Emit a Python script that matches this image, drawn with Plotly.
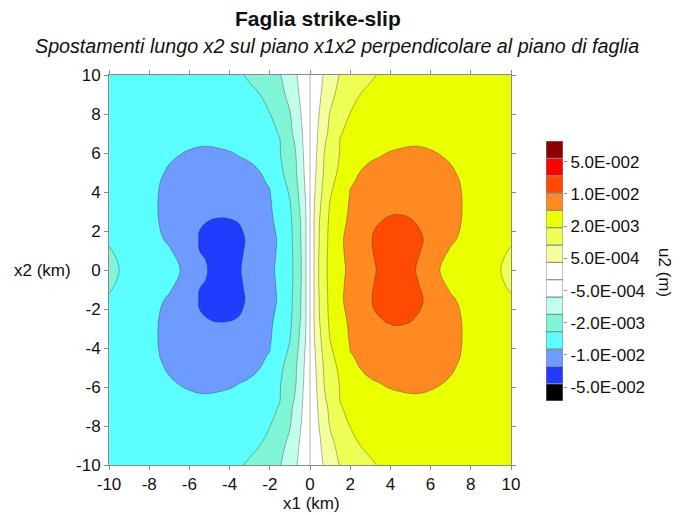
import numpy as np
import plotly.graph_objects as go

# Grid nodes on the positive side of the fault trace (x1 = 0 is the fault)
x1_pos = [0.2, 0.4, 0.7, 1.0, 1.5, 2, 2.5, 3, 3.5, 4, 4.5, 5, 5.5, 6, 6.5, 7, 7.5, 8, 9, 10]
x2_pos = [0, 0.5, 1, 1.5, 2, 2.5, 3, 3.5, 4, 4.5, 5, 5.5, 6, 6.5, 7, 8, 9, 10]

# u2 displacement in mm, one list per x2 row (x1 > 0, x2 >= 0)
u2_mm_x2_00 = [0.50, 0.95, 1.75, 2.66, 4.34, 5.95, 7.50, 9.05, 11.3, 13.2, 13.4, 11.8, 9.10, 6.80, 4.91, 4.43, 3.95, 3.44, 2.48, 1.84]
u2_mm_x2_05 = [0.50, 0.96, 1.74, 2.72, 4.46, 6.10, 7.70, 9.30, 11.9, 14.0, 14.2, 12.5, 9.50, 7.35, 5.20, 4.55, 4.07, 3.56, 2.60, 1.87]
u2_mm_x2_10 = [0.50, 0.94, 1.69, 2.69, 4.55, 6.25, 7.90, 9.50, 12.6, 14.8, 15.1, 13.5, 10.0, 8.10, 6.15, 4.79, 4.31, 3.83, 2.84, 1.95]
u2_mm_x2_15 = [0.50, 0.92, 1.67, 2.66, 4.61, 6.35, 8.00, 9.65, 13.1, 15.3, 15.7, 14.2, 10.9, 8.70, 7.10, 5.50, 4.67, 4.16, 3.17, 2.21]
u2_mm_x2_20 = [0.50, 0.92, 1.65, 2.60, 4.43, 6.15, 7.75, 9.35, 12.2, 14.4, 14.7, 13.3, 10.0, 8.70, 7.35, 6.05, 4.91, 4.40, 3.38, 2.36]
u2_mm_x2_25 = [0.50, 0.90, 1.61, 2.48, 4.22, 5.75, 7.15, 8.50, 9.85, 11.8, 12.1, 10.7, 9.25, 8.20, 7.10, 6.10, 5.05, 4.49, 3.47, 2.42]
u2_mm_x2_30 = [0.48, 0.85, 1.52, 2.33, 4.04, 5.50, 6.70, 7.80, 8.70, 9.30, 9.50, 9.20, 8.60, 7.80, 6.90, 6.00, 5.10, 4.58, 3.53, 2.48]
u2_mm_x2_35 = [0.47, 0.81, 1.41, 2.09, 3.80, 5.35, 6.30, 7.10, 7.75, 8.15, 8.35, 8.25, 7.90, 7.35, 6.65, 5.95, 5.10, 4.61, 3.59, 2.57]
u2_mm_x2_40 = [0.42, 0.76, 1.30, 1.90, 3.50, 5.10, 5.80, 6.40, 6.90, 7.25, 7.45, 7.45, 7.25, 6.85, 6.30, 5.70, 5.05, 4.61, 3.65, 2.66]
u2_mm_x2_45 = [0.39, 0.71, 1.18, 1.73, 3.11, 4.85, 5.35, 5.90, 6.35, 6.70, 6.95, 7.00, 6.85, 6.50, 6.00, 5.50, 4.97, 4.58, 3.65, 2.72]
u2_mm_x2_50 = [0.36, 0.66, 1.08, 1.56, 2.66, 4.16, 5.10, 5.60, 5.95, 6.25, 6.45, 6.50, 6.40, 6.10, 5.65, 5.25, 4.85, 4.49, 3.62, 2.75]
u2_mm_x2_55 = [0.34, 0.63, 1.05, 1.49, 2.33, 3.32, 4.31, 5.15, 5.50, 5.75, 5.95, 6.00, 5.90, 5.65, 5.35, 4.97, 4.73, 4.40, 3.59, 2.75]
u2_mm_x2_60 = [0.31, 0.60, 0.99, 1.41, 2.12, 2.90, 3.59, 4.25, 4.82, 5.20, 5.40, 5.50, 5.45, 5.20, 4.94, 4.73, 4.49, 4.22, 3.50, 2.75]
u2_mm_x2_65 = [0.29, 0.56, 0.95, 1.33, 2.09, 2.60, 3.14, 3.59, 4.10, 4.49, 4.73, 4.85, 4.85, 4.76, 4.61, 4.43, 4.25, 4.01, 3.41, 2.75]
u2_mm_x2_70 = [0.27, 0.53, 0.84, 1.25, 1.97, 2.36, 2.87, 3.32, 3.71, 4.04, 4.28, 4.43, 4.49, 4.46, 4.34, 4.19, 4.01, 3.80, 3.29, 2.72]
u2_mm_x2_80 = [0.22, 0.45, 0.75, 1.05, 1.60, 2.06, 2.54, 2.96, 3.29, 3.53, 3.71, 3.83, 3.89, 3.89, 3.83, 3.74, 3.62, 3.47, 3.11, 2.66]
u2_mm_x2_90 = [0.19, 0.37, 0.63, 0.88, 1.26, 1.63, 2.00, 2.51, 2.90, 3.14, 3.32, 3.44, 3.50, 3.50, 3.47, 3.41, 3.32, 3.20, 2.90, 2.54]
u2_mm_x2_100 = [0.16, 0.31, 0.54, 0.74, 1.06, 1.33, 1.61, 1.89, 2.21, 2.54, 2.75, 2.90, 2.99, 3.02, 3.02, 2.99, 2.93, 2.84, 2.66, 2.42]

# Contour levels (m) and colour of each band, from lowest to highest
levels = [-5e-2, -1e-2, -5e-3, -2e-3, -1e-3, -5e-4, 0.0, 5e-4, 1e-3, 2e-3, 5e-3, 1e-2, 2e-2, 5e-2]
band_colors = [
    "#000000", "#1f3cff", "#6e9bff", "#5cffff", "#7ff5d6", "#c0ffec", "#ffffff",
    "#ffffff", "#f6ff9e", "#eeff55", "#eaff00", "#ff8a22", "#ff4a00", "#ff0000", "#8c0000",
]
scale_labels = ["5.0E-002", "1.0E-002", "2.0E-003", "5.0E-004",
                "-5.0E-004", "-2.0E-003", "-1.0E-002", "-5.0E-002"]
axis_ticks = [-10, -8, -6, -4, -2, 0, 2, 4, 6, 8, 10]

# Full field: symmetric in x2, antisymmetric in x1 about the fault
quad = np.array([
    u2_mm_x2_00, u2_mm_x2_05, u2_mm_x2_10, u2_mm_x2_15, u2_mm_x2_20, u2_mm_x2_25,
    u2_mm_x2_30, u2_mm_x2_35, u2_mm_x2_40, u2_mm_x2_45, u2_mm_x2_50, u2_mm_x2_55,
    u2_mm_x2_60, u2_mm_x2_65, u2_mm_x2_70, u2_mm_x2_80, u2_mm_x2_90, u2_mm_x2_100,
]) / 1000.0
x1 = np.concatenate([-np.array(x1_pos)[::-1], x1_pos])
x2 = np.concatenate([-np.array(x2_pos)[:0:-1], x2_pos])
half = np.vstack([quad[:0:-1], quad])
u2 = np.hstack([-half[:, ::-1], half])

# Levels are not evenly spaced: map values onto level-index space for contouring
n_lev = len(levels)
level_pos = np.arange(n_lev) + 0.5
z_idx = np.interp(u2, levels, level_pos)

n_band = len(band_colors)
colorscale = []
for k, c in enumerate(band_colors):
    colorscale.append([k / n_band, c])
    colorscale.append([(k + 1) / n_band, c])

font_family = "Liberation Sans, Arial, sans-serif"
text_color = "#111111"
frame_color = "#8a8a8a"

fig = go.Figure()

fig.add_trace(go.Contour(
    x=x1, y=x2, z=z_idx,
    customdata=u2,
    hovertemplate="x1=%{x} km<br>x2=%{y} km<br>u2=%{customdata:.2e} m<extra></extra>",
    autocontour=False,
    contours=dict(start=level_pos[0], end=level_pos[-1], size=1, coloring="fill"),
    colorscale=colorscale,
    line=dict(color="rgba(40,40,40,0.45)", width=0.8, smoothing=1.3),
    showscale=False,
    xaxis="x", yaxis="y",
))

# Colour scale drawn as a column of equal boxes, one per band
fig.add_trace(go.Bar(
    x=[0] * n_band, y=[1] * n_band, base=list(range(n_band)),
    width=1, marker=dict(color=band_colors, line=dict(color=frame_color, width=1)),
    hoverinfo="skip", showlegend=False,
    xaxis="x2", yaxis="y2",
))

# Paper area spans x = 109..664 px, y = 75..465 px
paper_w = 555.0
main_domain_x = [0.0, 402 / paper_w]
scale_domain_x = [(546 - 109) / paper_w, (563 - 109) / paper_w]
scale_domain_y = [(465 - 401) / 390.0, (465 - 141) / 390.0]

axis_common = dict(
    range=[-10, 10], tickmode="array", tickvals=axis_ticks,
    ticktext=[str(v) for v in axis_ticks],
    ticks="outside", ticklen=4, tickcolor=frame_color,
    showline=True, linecolor=frame_color, linewidth=1, mirror="ticks",
    showgrid=False, zeroline=False,
    tickfont=dict(family=font_family, size=17, color=text_color),
)


def label(text, x, y, size=17, angle=0):
    return dict(text=text, xref="paper", yref="paper", x=x, y=y,
                xanchor="center", yanchor="middle", textangle=angle,
                showarrow=False, font=dict(family=font_family, size=size, color=text_color))


def px_x(px):
    return (px - 109) / paper_w


def px_y(py):
    return (465 - py) / 390.0


fig.update_layout(
    width=684, height=515,
    margin=dict(l=109, r=20, t=75, b=50),
    paper_bgcolor="white", plot_bgcolor="white",
    xaxis=dict(axis_common, domain=main_domain_x),
    yaxis=dict(axis_common, domain=[0, 1]),
    xaxis2=dict(domain=scale_domain_x, range=[-0.5, 0.5], visible=False, fixedrange=True),
    yaxis2=dict(
        domain=scale_domain_y, anchor="x2", side="right", range=[0, n_band],
        tickmode="array",
        tickvals=list(np.linspace(n_band - 1, 1, len(scale_labels)) - 0.2),
        ticktext=scale_labels, ticks="outside", ticklen=3, tickcolor=frame_color,
        showline=False, showgrid=False, zeroline=False, fixedrange=True,
        tickfont=dict(family=font_family, size=17, color=text_color),
    ),
    showlegend=False,
    annotations=[
        label("<b>Faglia strike-slip</b>", px_x(318), px_y(18), size=21),
        label("<i>Spostamenti lungo x2 sul piano x1x2 perpendicolare al piano di faglia</i>",
              px_x(337), px_y(46), size=19.7),
        label("x2 (km)", px_x(42), 0.5),
        label("x1 (km)", px_x(311), px_y(503)),
        label("u2 (m)", px_x(665), px_y(272), angle=90),
    ],
)

fig.write_html("out.html")
